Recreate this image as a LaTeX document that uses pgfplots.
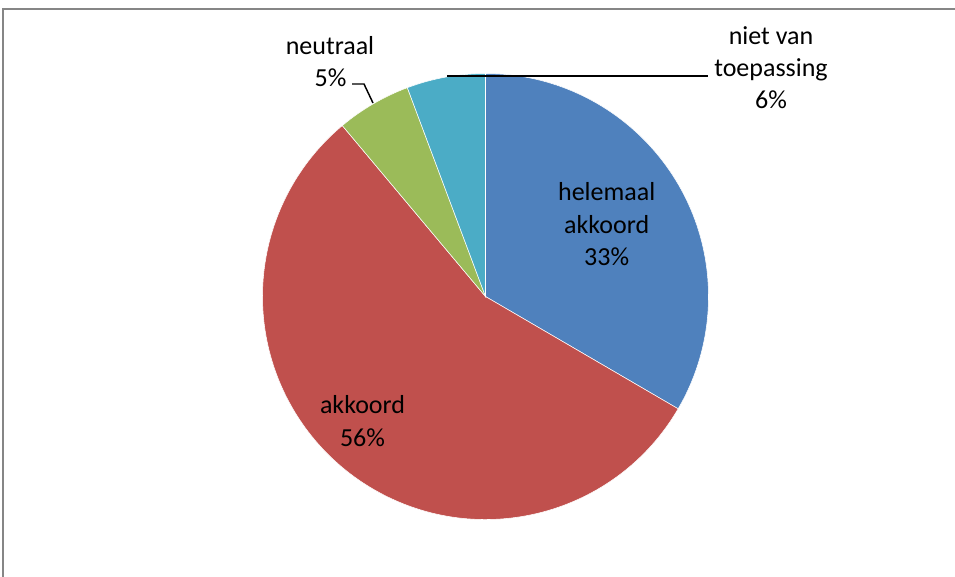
\documentclass[border=0pt]{standalone}
\usepackage{fontspec}
\setmainfont{Carlito}
\usepackage{pgfplots}
\usepackage{pgfplotstable}
\pgfplotsset{compat=1.18}
\definecolor{cblue}{HTML}{4F81BD}
\definecolor{cred}{HTML}{C0504D}
\definecolor{cgreen}{HTML}{9BBB59}
\definecolor{caqua}{HTML}{4BACC6}
\definecolor{frame}{RGB}{134,134,134}

% shares in percent, clockwise from 12 o'clock
\pgfplotstableread{
label value
helemaal 33.4
akkoord 55.5
neutraal 5.4
nvt 5.7
}\piedata

\tikzset{
  lbl/.style={anchor=base, inner sep=0pt, font=\fontsize{19.5pt}{24pt}\selectfont, text=black},
  slice/.style={draw=white, line width=0.4pt},
  leader/.style={black, line width=1.1pt},
}

\begin{document}
\begin{tikzpicture}
\useasboundingbox (0,0) rectangle (716.25pt,432pt);
\clip (0,0) rectangle (716.25pt,432pt);
% slice angles from the table
\pgfplotstablegetelem{0}{value}\of\piedata \let\va\pgfplotsretval
\pgfplotstablegetelem{1}{value}\of\piedata \let\vb\pgfplotsretval
\pgfplotstablegetelem{2}{value}\of\piedata \let\vc\pgfplotsretval
\pgfplotstablegetelem{3}{value}\of\piedata \let\vd\pgfplotsretval
\pgfmathsetmacro\aA{90-3.6*\va}
\pgfmathsetmacro\aB{\aA-3.6*\vb}
\pgfmathsetmacro\aC{\aB-3.6*\vc}
\pgfmathsetmacro\aD{\aC-3.6*\vd}
\def\R{167.25pt}
\begin{axis}[hide axis, scale only axis, x=0.75pt, y=0.75pt,
  xmin=0, xmax=955, ymin=0, ymax=576, y dir=reverse, clip=false]
\draw[frame, line width=1.1pt] (axis cs:3,9) rectangle (axis cs:1000,620);
\fill[cblue, slice] (axis cs:485.5,296.5) -- ++(90:\R) arc[start angle=90, end angle=\aA, radius=\R] -- cycle;
\fill[cred, slice] (axis cs:485.5,296.5) -- ++(\aA:\R) arc[start angle=\aA, end angle=\aB, radius=\R] -- cycle;
\fill[cgreen, slice] (axis cs:485.5,296.5) -- ++(\aB:\R) arc[start angle=\aB, end angle=\aC, radius=\R] -- cycle;
\fill[caqua, slice] (axis cs:485.5,296.5) -- ++(\aC:\R) arc[start angle=\aC, end angle=\aD, radius=\R] -- cycle;
% leader lines
\draw[leader] (axis cs:447,76) -- (axis cs:708,76);
\draw[leader] (axis cs:352,84) -- (axis cs:364,84) -- (axis cs:373,103);
% data labels
\node[lbl] at (axis cs:606.7,200) {helemaal};
\node[lbl] at (axis cs:606.7,233) {akkoord};
\node[lbl] at (axis cs:606.7,265) {33\%};
\node[lbl] at (axis cs:362.5,413) {akkoord};
\node[lbl] at (axis cs:362.5,446) {56\%};
\node[lbl] at (axis cs:330,54.3) {neutraal};
\node[lbl] at (axis cs:330.5,86.7) {5\%};
\node[lbl] at (axis cs:771,44) {niet van};
\node[lbl] at (axis cs:771,76) {toepassing};
\node[lbl] at (axis cs:771,108.3) {6\%};
\end{axis}
\end{tikzpicture}
\end{document}
